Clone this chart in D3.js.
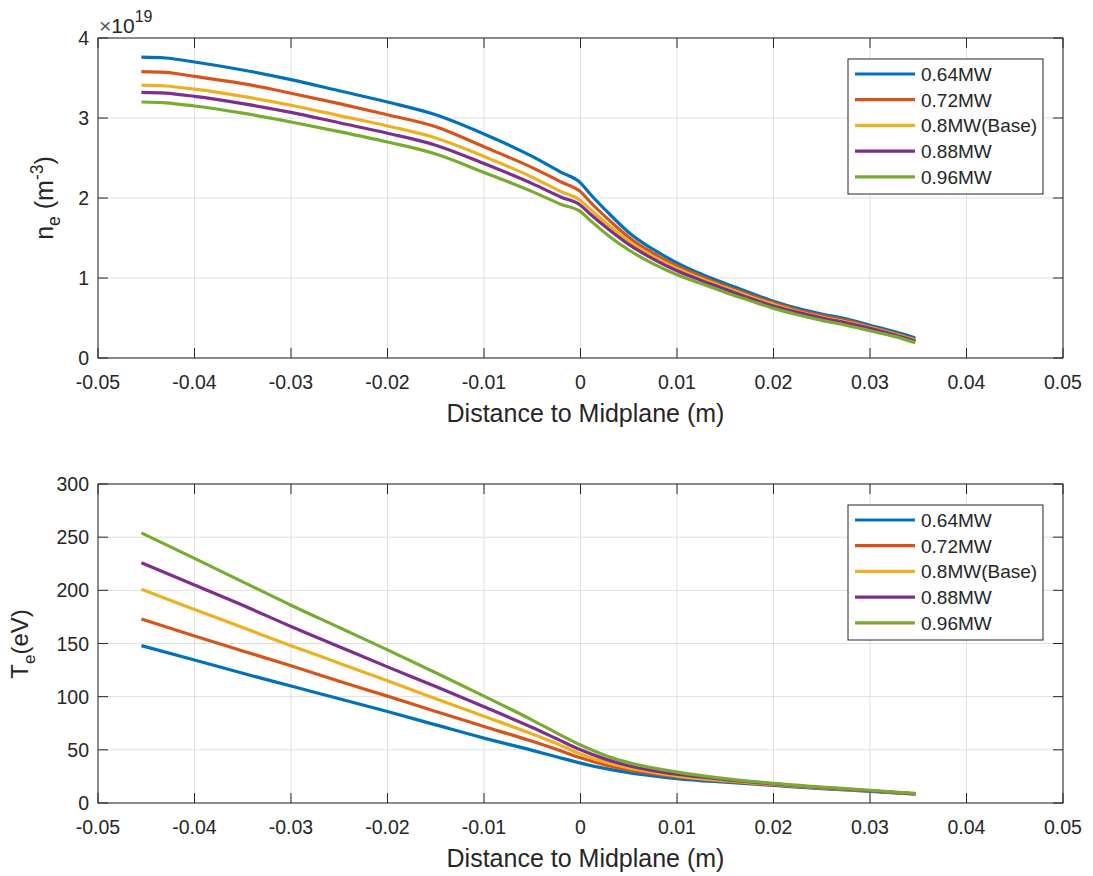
<!DOCTYPE html>
<html><head><meta charset="utf-8">
<script src="https://cdn.jsdelivr.net/npm/d3@7/dist/d3.min.js"></script>
<style>body{margin:0;background:#fff}svg{display:block}text{font-family:"Liberation Sans",Arial,Helvetica,sans-serif;fill:#262626}</style>
</head><body><svg id="c" width="1093" height="876"></svg>
<script>
const seriesNames = ["0.64MW","0.72MW","0.8MW(Base)","0.88MW","0.96MW"];
const colors = ["#0072BD","#D95319","#EDB120","#7E2F8E","#77AC30"];
const xTicks = [-0.05,-0.04,-0.03,-0.02,-0.01,0,0.01,0.02,0.03,0.04,0.05];
const xTickLabels = ["-0.05","-0.04","-0.03","-0.02","-0.01","0","0.01","0.02","0.03","0.04","0.05"];
const neTicks = [0,1,2,3,4];
const teTicks = [0,50,100,150,200,250,300];

// electron density (x1e19 m^-3)
const xNe = [-0.0455,-0.043,-0.04,-0.035,-0.03,-0.025,-0.02,-0.015,-0.01,-0.005,-0.002,0,0.001,0.003,0.005,0.0075,0.01,0.0125,0.015,0.0175,0.02,0.0225,0.025,0.0275,0.03,0.0325,0.0347];
const ne064 = [3.76,3.75,3.70,3.60,3.48,3.34,3.20,3.04,2.80,2.52,2.32,2.19,2.05,1.80,1.57,1.36,1.19,1.05,0.93,0.82,0.71,0.62,0.55,0.49,0.41,0.33,0.25];
const ne072 = [3.58,3.57,3.52,3.43,3.31,3.18,3.04,2.89,2.64,2.38,2.20,2.08,1.95,1.72,1.51,1.31,1.15,1.02,0.90,0.79,0.69,0.60,0.53,0.47,0.39,0.31,0.23];
const ne080 = [3.41,3.40,3.36,3.27,3.16,3.03,2.90,2.75,2.52,2.26,2.08,1.97,1.86,1.65,1.46,1.27,1.12,0.99,0.88,0.77,0.67,0.58,0.51,0.45,0.38,0.30,0.22];
const ne088 = [3.32,3.31,3.27,3.18,3.07,2.94,2.81,2.66,2.43,2.18,2.01,1.91,1.80,1.60,1.42,1.24,1.09,0.97,0.86,0.75,0.65,0.57,0.50,0.44,0.37,0.29,0.21];
const ne096 = [3.20,3.19,3.15,3.06,2.95,2.83,2.70,2.55,2.32,2.08,1.92,1.83,1.72,1.52,1.35,1.18,1.04,0.93,0.82,0.72,0.62,0.54,0.47,0.41,0.34,0.27,0.19];

// electron temperature (eV)
const xTe = [-0.0455,-0.04,-0.035,-0.03,-0.025,-0.02,-0.015,-0.01,-0.005,-0.0025,0,0.0025,0.005,0.0075,0.01,0.015,0.02,0.025,0.03,0.0347];
const te064 = [148,134.5,122,110,98,86,73.5,61,49.5,43.5,37.5,32.5,28.5,25.5,23,19.5,16.5,13.5,11,8.5];
const te072 = [173,157,143,129,114.5,100.5,86,72,58,50.5,42.5,36,31,27.5,24.5,20.5,17,14,11.5,8.5];
const te080 = [201,182,165,148,131.5,115,98,81.5,65,56,46,38.5,33,29,25.5,21,17.5,14.3,11.5,8.5];
const te088 = [226,205,186,166,147,128,109.5,90.5,71,60.5,50,41.5,35,30.5,27,22,18,14.5,11.5,8.5];
const te096 = [254,230,208,186,165,144,122.5,100.5,78,66,54.5,45,38,33,29,23,18.5,15,12,9];

const svg = d3.select("#c");
const L = 98, R = 1063;
const x = d3.scaleLinear().domain([-0.05,0.05]).range([L,R]);

function panel(top, bottom, yDomain, yTicks, ySeries, xs){
  const y = d3.scaleLinear().domain(yDomain).range([bottom, top]);
  const g = svg.append("g");
  g.append("g").selectAll("line").data(xTicks).join("line")
    .attr("x1",d=>x(d)).attr("x2",d=>x(d)).attr("y1",top).attr("y2",bottom)
    .attr("stroke","#e0e0e0").attr("stroke-width",1);
  g.append("g").selectAll("line").data(yTicks).join("line")
    .attr("x1",L).attr("x2",R).attr("y1",d=>y(d)).attr("y2",d=>y(d))
    .attr("stroke","#e0e0e0").attr("stroke-width",1);
  const line = d3.line().x((d,i)=>x(xs[i])).y(d=>y(d)).curve(d3.curveMonotoneX);
  ySeries.forEach((s,k)=>{
    g.append("path").attr("d",line(s)).attr("fill","none")
      .attr("stroke",colors[k]).attr("stroke-width",3.2).attr("stroke-linejoin","round");
  });
  const tl = 10;
  const ax = g.append("g").attr("stroke","#262626").attr("stroke-width",1);
  ax.append("rect").attr("x",L).attr("y",top).attr("width",R-L).attr("height",bottom-top).attr("fill","none");
  xTicks.forEach(d=>{
    ax.append("line").attr("x1",x(d)).attr("x2",x(d)).attr("y1",bottom).attr("y2",bottom-tl);
    ax.append("line").attr("x1",x(d)).attr("x2",x(d)).attr("y1",top).attr("y2",top+tl);
  });
  yTicks.forEach(d=>{
    ax.append("line").attr("x1",L).attr("x2",L+tl).attr("y1",y(d)).attr("y2",y(d));
    ax.append("line").attr("x1",R).attr("x2",R-tl).attr("y1",y(d)).attr("y2",y(d));
  });
  g.append("g").selectAll("text").data(xTicks).join("text")
    .attr("x",d=>x(d)).attr("y",bottom+31).attr("text-anchor","middle")
    .attr("font-size",19.5).text((d,i)=>xTickLabels[i]);
  g.append("g").selectAll("text").data(yTicks).join("text")
    .attr("x",L-9).attr("y",d=>y(d)+7).attr("text-anchor","end")
    .attr("font-size",19.5).text(d=>String(d));
  g.append("text").attr("x",(L+R)/2+5).attr("y",bottom+64).attr("text-anchor","middle")
    .attr("font-size",25).text("Distance to Midplane (m)");
  const lx = 848, lw = 195, ly = top+21, lh = 135, rowH = 25.7;
  const lg = g.append("g");
  lg.append("rect").attr("x",lx).attr("y",ly).attr("width",lw).attr("height",lh)
    .attr("fill","#fff").attr("stroke","#262626").attr("stroke-width",1);
  seriesNames.forEach((n,k)=>{
    const yy = ly + 15 + k*rowH;
    lg.append("line").attr("x1",lx+7).attr("x2",lx+67).attr("y1",yy).attr("y2",yy)
      .attr("stroke",colors[k]).attr("stroke-width",3.2);
    lg.append("text").attr("x",lx+73).attr("y",yy+7).attr("font-size",19).text(n);
  });
  return y;
}

panel(38, 358, [0,4], neTicks, [ne064,ne072,ne080,ne088,ne096], xNe);
panel(484, 803, [0,300], teTicks, [te064,te072,te080,te088,te096], xTe);

// exponent label
const ex = svg.append("text").attr("x",99).attr("y",33).attr("font-size",21);
ex.append("tspan").attr("fill","#555").text("\u00D7");
ex.append("tspan").text("10");
ex.append("tspan").attr("dy",-11).attr("font-size",16).text("19");

// y labels
const yl1 = svg.append("text").attr("transform","translate(53,198) rotate(-90)")
  .attr("text-anchor","middle").attr("font-size",25);
yl1.append("tspan").text("n");
yl1.append("tspan").attr("dy",7).attr("font-size",17.5).text("e");
yl1.append("tspan").attr("dy",-7).text(" (m");
yl1.append("tspan").attr("dy",-10).attr("font-size",17.5).text("-3");
yl1.append("tspan").attr("dy",10).text(")");

const yl2 = svg.append("text").attr("transform","translate(28,644) rotate(-90)")
  .attr("text-anchor","middle").attr("font-size",24);
yl2.append("tspan").text("T");
yl2.append("tspan").attr("dy",7).attr("font-size",17).text("e");
yl2.append("tspan").attr("dy",-7).text("(eV)");
</script></body></html>
